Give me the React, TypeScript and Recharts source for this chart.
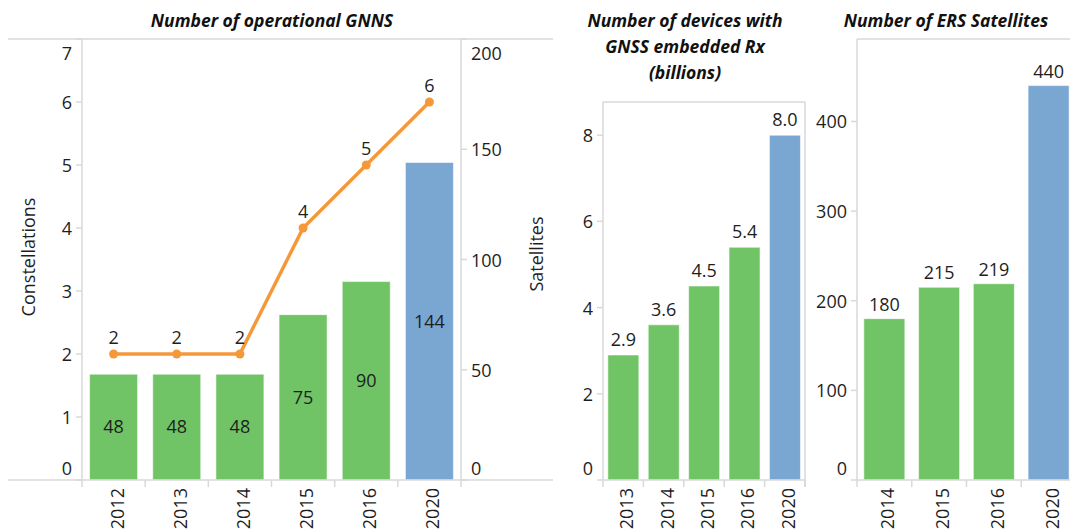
import { Bar, BarChart, Cell, ComposedChart, LabelList, Line, XAxis, YAxis } from 'recharts'

const GNSS_YEARS = ['2012', '2013', '2014', '2015', '2016', '2020']
const GNSS_SATELLITES = [48, 48, 48, 75, 90, 144]
const GNSS_CONSTELLATIONS = [2, 2, 2, 4, 5, 6]
const CONSTELLATION_TICKS = [0, 1, 2, 3, 4, 5, 6, 7]
const SATELLITE_TICKS = [0, 50, 100, 150, 200]

const DEVICE_YEARS = ['2013', '2014', '2015', '2016', '2020']
const DEVICE_BILLIONS = [2.9, 3.6, 4.5, 5.4, 8.0]
const DEVICE_TICKS = [0, 2, 4, 6, 8]

const ERS_YEARS = ['2014', '2015', '2016', '2020']
const ERS_SATELLITES = [180, 215, 219, 440]
const ERS_TICKS = [0, 100, 200, 300, 400]

const FORECAST_YEAR = '2020'

const FONT = '"Open Sans", sans-serif'
const INK = '#1e1e1e'
const RULE = '#d9d9d9'
const GREEN = '#70c466'
const BLUE = '#7aa6d2'
const ORANGE = '#f5983a'

const W = 1070
const H = 531
const BOTTOM = 480
const XAXIS_H = H - BOTTOM

// panel geometry (plot areas)
const P1 = { left: 0, width: 560, top: 39, plotLeft: 82, plotRight: 461 }
const P2 = { left: 540, width: 270, top: 102, plotLeft: 603, plotRight: 805 }
const P3 = { left: 800, width: 276, top: 39, plotLeft: 857 }

const gnssData = GNSS_YEARS.map((year, i) => ({
  year,
  satellites: GNSS_SATELLITES[i],
  constellations: GNSS_CONSTELLATIONS[i],
}))
const deviceData = DEVICE_YEARS.map((year, i) => ({ year, billions: DEVICE_BILLIONS[i] }))
const ersData = ERS_YEARS.map((year, i) => ({ year, satellites: ERS_SATELLITES[i] }))

const fill = (year: string) => (year === FORECAST_YEAR ? BLUE : GREEN)

function YTick(props: any) {
  const { x, y, payload, textAnchor, edge } = props
  // edge labels sit inside the plot like the original
  let shift = 0
  if (payload.value === 0) shift = -12
  else if (payload.value === edge) shift = 14
  return (
    <text x={x} y={y + shift} textAnchor={textAnchor} dominantBaseline="central" fill={INK} fontSize={18} fontFamily={FONT}>
      {payload.value}
    </text>
  )
}

function XTick(props: any) {
  const { x, y, payload, index, step, count } = props
  const half = step / 2
  const end = y + 8
  return (
    <g>
      <line x1={x - half} x2={x - half} y1={y} y2={y + 7} stroke={RULE} strokeWidth={1.5} />
      {index === count - 1 && <line x1={x + half} x2={x + half} y1={y} y2={y + 7} stroke={RULE} strokeWidth={1.5} />}
      <text
        x={x}
        y={end}
        dy={10}
        transform={`rotate(-90, ${x}, ${end})`}
        textAnchor="end"
        fill={INK}
        fontSize={18}
        fontFamily={FONT}
      >
        {payload.value}
      </text>
    </g>
  )
}

const yAxisStyle = {
  axisLine: { stroke: RULE, strokeWidth: 1.5 },
  tickLine: { stroke: RULE, strokeWidth: 1.5 },
  tickSize: 6,
  tickMargin: 4,
  interval: 0 as const,
}

function Title({ cx, top, width, children }: { cx: number; top: number; width: number; children: any }) {
  return (
    <div
      style={{
        position: 'absolute',
        left: cx - width / 2,
        top,
        width,
        textAlign: 'center',
        fontFamily: FONT,
        fontWeight: 700,
        fontStyle: 'italic',
        fontSize: 17.5,
        lineHeight: '26px',
        color: '#111',
      }}
    >
      {children}
    </div>
  )
}

function AxisTitle({ cx, cy, children }: { cx: number; cy: number; children: string }) {
  return (
    <div
      style={{
        position: 'absolute',
        left: cx,
        top: cy,
        transform: 'translate(-50%, -50%) rotate(-90deg)',
        whiteSpace: 'nowrap',
        fontFamily: FONT,
        fontSize: 18,
        color: INK,
      }}
    >
      {children}
    </div>
  )
}

export default function App() {
  const step1 = (P1.plotRight - P1.plotLeft) / GNSS_YEARS.length
  const step2 = (P2.plotRight - P2.plotLeft) / DEVICE_YEARS.length
  const step3 = (P3.left + P3.width - P3.plotLeft) / ERS_YEARS.length

  return (
    <div style={{ position: 'absolute', left: 0, top: 0, width: W, height: H, overflow: 'hidden', background: '#fff' }}>
      <Title cx={272} top={7} width={400}>Number of operational GNNS</Title>
      <Title cx={685} top={7} width={260}>
        Number of devices with
        <br />
        GNSS embedded Rx
        <br />
        (billions)
      </Title>
      <Title cx={946} top={7} width={260}>Number of ERS Satellites</Title>

      <AxisTitle cx={27.5} cy={257}>Constellations</AxisTitle>
      <AxisTitle cx={536} cy={254}>Satellites</AxisTitle>

      <div style={{ position: 'absolute', left: P1.left, top: 0 }}>
        <ComposedChart
          width={P1.width}
          height={H}
          data={gnssData}
          margin={{ top: P1.top, right: 0, bottom: 0, left: 0 }}
          barCategoryGap="12%"
        >
          <XAxis
            dataKey="year"
            height={XAXIS_H}
            axisLine={false}
            tickLine={false}
            tickSize={0}
            tickMargin={0}
            interval={0}
            tick={(p: any) => <XTick {...p} step={step1} count={GNSS_YEARS.length} />}
          />
          <YAxis
            yAxisId="c"
            orientation="left"
            width={P1.plotLeft}
            domain={[0, 7]}
            ticks={CONSTELLATION_TICKS}
            {...yAxisStyle}
            tick={(p: any) => <YTick {...p} edge={7} />}
          />
          <YAxis
            yAxisId="s"
            orientation="right"
            width={P1.width - P1.plotRight}
            domain={[0, 200]}
            ticks={SATELLITE_TICKS}
            {...yAxisStyle}
            tick={(p: any) => <YTick {...p} edge={200} />}
          />
          <Bar yAxisId="s" dataKey="satellites" isAnimationActive={false} stroke="rgba(255,255,255,0.55)" strokeWidth={1}>
            {gnssData.map((d) => (
              <Cell key={d.year} fill={fill(d.year)} />
            ))}
            <LabelList dataKey="satellites" position="center" fill={INK} fontSize={18} fontFamily={FONT} />
          </Bar>
          <Line
            yAxisId="c"
            dataKey="constellations"
            type="linear"
            stroke={ORANGE}
            strokeWidth={3.5}
            dot={{ r: 4.5, fill: ORANGE, stroke: ORANGE, strokeWidth: 0 }}
            isAnimationActive={false}
          >
            <LabelList dataKey="constellations" position="top" offset={10} fill={INK} fontSize={18} fontFamily={FONT} />
          </Line>
        </ComposedChart>
      </div>

      <div style={{ position: 'absolute', left: P2.left, top: 0 }}>
        <BarChart
          width={P2.width}
          height={H}
          data={deviceData}
          margin={{ top: P2.top, right: P2.left + P2.width - P2.plotRight, bottom: 0, left: 0 }}
          barCategoryGap="12%"
        >
          <XAxis
            dataKey="year"
            height={XAXIS_H}
            axisLine={{ stroke: RULE, strokeWidth: 1.5 }}
            tickLine={false}
            tickSize={0}
            tickMargin={0}
            interval={0}
            tick={(p: any) => <XTick {...p} step={step2} count={DEVICE_YEARS.length} />}
          />
          <YAxis
            width={P2.plotLeft - P2.left}
            domain={[0, 8.77]}
            ticks={DEVICE_TICKS}
            {...yAxisStyle}
            tick={(p: any) => <YTick {...p} edge={null} />}
          />
          <Bar dataKey="billions" isAnimationActive={false} stroke="rgba(255,255,255,0.55)" strokeWidth={1}>
            {deviceData.map((d) => (
              <Cell key={d.year} fill={fill(d.year)} />
            ))}
            <LabelList
              dataKey="billions"
              position="top"
              offset={9}
              formatter={(v: any) => Number(v).toFixed(1)}
              fill={INK}
              fontSize={18}
              fontFamily={FONT}
            />
          </Bar>
        </BarChart>
      </div>

      <div style={{ position: 'absolute', left: P3.left, top: 0 }}>
        <BarChart
          width={P3.width}
          height={H}
          data={ersData}
          margin={{ top: P3.top, right: 0, bottom: 0, left: 0 }}
          barCategoryGap="12.5%"
        >
          <XAxis
            dataKey="year"
            height={XAXIS_H}
            axisLine={{ stroke: RULE, strokeWidth: 1.5 }}
            tickLine={false}
            tickSize={0}
            tickMargin={0}
            interval={0}
            tick={(p: any) => <XTick {...p} step={step3} count={ERS_YEARS.length} />}
          />
          <YAxis
            width={P3.plotLeft - P3.left}
            domain={[0, 492]}
            ticks={ERS_TICKS}
            {...yAxisStyle}
            tick={(p: any) => <YTick {...p} edge={null} />}
          />
          <Bar dataKey="satellites" isAnimationActive={false} stroke="rgba(255,255,255,0.55)" strokeWidth={1}>
            {ersData.map((d) => (
              <Cell key={d.year} fill={fill(d.year)} />
            ))}
            <LabelList dataKey="satellites" position="top" offset={8} fill={INK} fontSize={18} fontFamily={FONT} />
          </Bar>
        </BarChart>
      </div>

      {/* frame lines around the panes */}
      <svg width={W} height={H} style={{ position: 'absolute', left: 0, top: 0, pointerEvents: 'none' }}>
        <g stroke={RULE} strokeWidth={1.5}>
          <line x1={8} x2={553} y1={P1.top} y2={P1.top} />
          <line x1={8} x2={553} y1={BOTTOM} y2={BOTTOM} />
          <line x1={P2.plotLeft} x2={P2.plotRight} y1={P2.top} y2={P2.top} />
          <line x1={P2.plotRight} x2={P2.plotRight} y1={P2.top} y2={BOTTOM + 7} />
          <line x1={P3.plotLeft} x2={W} y1={P3.top} y2={P3.top} />
        </g>
      </svg>
    </div>
  )
}
